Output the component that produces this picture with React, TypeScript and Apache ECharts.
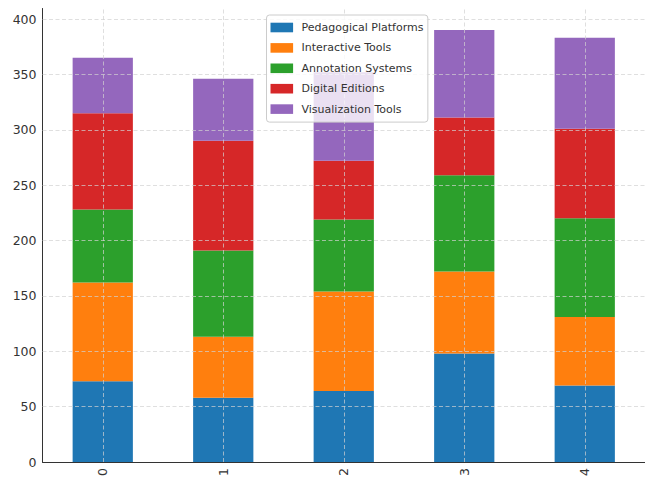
import React, { useEffect, useRef } from "react";
import * as echarts from "echarts";

const categories = ["0", "1", "2", "3", "4"];
const seriesNames = [
  "Pedagogical Platforms",
  "Interactive Tools",
  "Annotation Systems",
  "Digital Editions",
  "Visualization Tools",
];
const pedagogicalPlatforms = [73, 58, 64, 98, 69];
const interactiveTools = [89, 55, 90, 74, 62];
const annotationSystems = [66, 78, 65, 87, 89];
const digitalEditions = [87, 99, 53, 52, 81];
const visualizationTools = [50, 56, 80, 79, 82];
const yTicks = [50, 100, 150, 200, 250, 300, 350, 400];
const colors = ["#1f77b4", "#ff7f0e", "#2ca02c", "#d62728", "#9467bd"];

export default function App() {
  const ref = useRef<HTMLDivElement>(null);
  useEffect(() => {
    if (!ref.current) return;
    const chart = echarts.init(ref.current, null, { renderer: "svg" });
    const all = [
      pedagogicalPlatforms,
      interactiveTools,
      annotationSystems,
      digitalEditions,
      visualizationTools,
    ];
    const totals = categories.map((_, i) => all.reduce((s, a) => s + a[i], 0));
    const yMax = Math.max(...totals) * 1.05;
    const font = "DejaVu Sans";
    const gridColor = "rgba(210,210,210,0.7)";
    chart.setOption({
      animation: false,
      color: colors,
      grid: { left: 42.5, right: -6, top: 462 - 390 * 1.05 * 1.1075, bottom: 19, containLabel: false },
      legend: {
        orient: "vertical",
        left: 266.5,
        top: 15,
        z: 10,
        icon: "rect",
        itemWidth: 22.6,
        itemHeight: 9.6,
        itemGap: 6.4,
        padding: [5.5, 4.4, 6, 4],
        backgroundColor: "rgba(255,255,255,0.8)",
        borderColor: "#cccccc",
        borderWidth: 1,
        borderRadius: 3,
        textStyle: {
          fontFamily: font,
          fontSize: 11,
          color: "#333",
          lineHeight: 14,
          padding: [0, 0, 0, 3.4],
        },
        data: seriesNames,
      },
      xAxis: {
        type: "category",
        data: categories,
        axisLine: { show: true, lineStyle: { color: "#333", width: 1 } },
        axisTick: { show: false },
        splitLine: { show: false },
        axisLabel: {
          rotate: 90,
          margin: 6,
          fontFamily: font,
          fontSize: 12.5,
          color: "#333",
        },
      },
      yAxis: {
        type: "value",
        min: 0,
        max: yMax,
        interval: 50,
        axisLine: { show: true, lineStyle: { color: "#333", width: 1 } },
        axisTick: { show: false },
        splitLine: { show: false },
        axisLabel: {
          margin: 6,
          fontFamily: font,
          fontSize: 12.5,
          color: "#333",
          formatter: (v: number) => (v % 50 === 0 ? String(v) : ""),
          showMaxLabel: false,
        },
      },
      series: all.map((d, i) => ({
        name: seriesNames[i],
        type: "bar",
        stack: "total",
        barWidth: "50%",
        data: d,
        itemStyle: { color: colors[i] },
        ...(i === all.length - 1
          ? {
              markLine: {
                silent: true,
                symbol: "none",
                z: 5,
                label: { show: false },
                lineStyle: { color: gridColor, type: [4, 2.5], width: 1 },
                data: [
                  ...yTicks.map((v) => ({ yAxis: v })),
                  ...categories.map((c) => ({ xAxis: c })),
                ],
              },
            }
          : {}),
      })),
    });
    return () => chart.dispose();
  }, []);
  return (
    <div
      ref={ref}
      style={{ position: "fixed", left: 0, top: 0, width: 645, height: 481, background: "#fff" }}
    />
  );
}
